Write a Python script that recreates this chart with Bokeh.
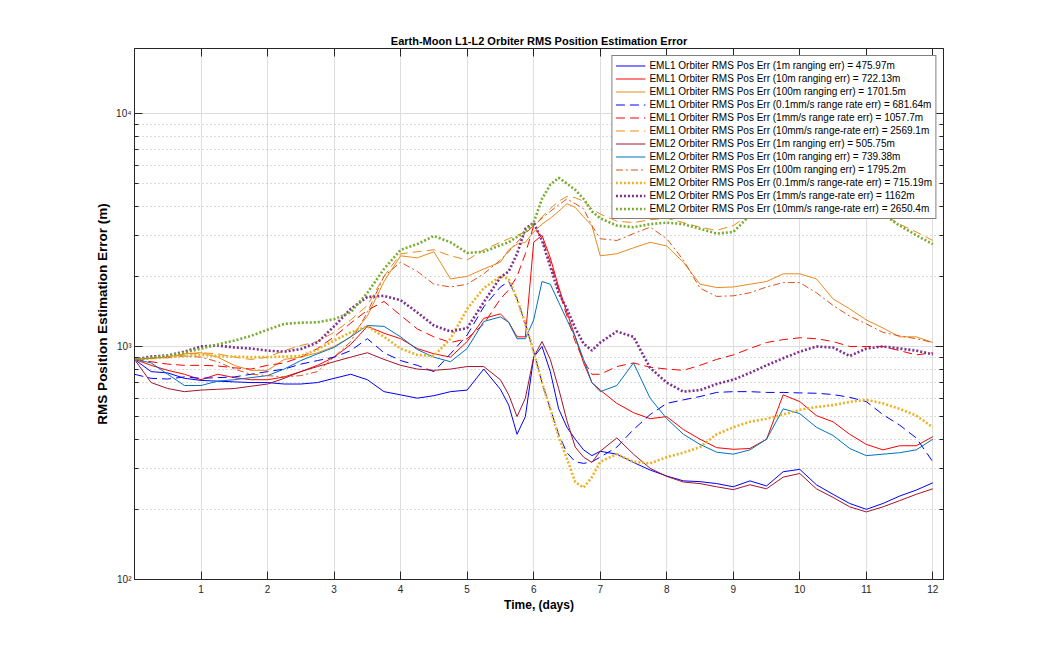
from bokeh.plotting import figure
from bokeh.models import FixedTicker, LogAxis, LinearAxis, Legend, LegendItem, Range1d
from bokeh.embed import file_html
from bokeh.resources import INLINE

# ---------------- data ----------------
t_days = [0, 0.25, 0.5, 0.75, 1, 1.25, 1.5, 1.75, 2, 2.25, 2.5, 2.75, 3, 3.25, 3.5, 3.75,
          4, 4.25, 4.5, 4.75, 5, 5.25, 5.5,
          5.625, 5.75, 5.875, 6, 6.125, 6.25, 6.375, 6.5, 6.625, 6.75, 6.875, 7,
          7.25, 7.5, 7.75, 8, 8.25, 8.5, 8.75, 9, 9.25, 9.5, 9.75, 10, 10.25, 10.5, 10.75,
          11, 11.25, 11.5, 11.75, 12]

eml1_1m = [880, 780, 770, 730, 715, 710, 705, 700, 700, 690, 690, 700, 730, 760, 720, 640, 620, 600, 615, 640, 650, 800, 655,
           560, 420, 500, 900, 1000, 780, 540, 450, 400, 360, 340, 355,
           345, 318, 295, 278, 265, 263, 258, 250, 265, 252, 290, 297, 255, 232, 212, 200, 212, 228, 242, 260]
eml1_10m = [880, 830, 790, 760, 720, 760, 735, 720, 720, 740, 780, 830, 900, 1020, 1220, 1140, 1080, 980, 930, 900, 1050, 1320, 1380,
            1270, 1100, 1100, 2800, 3000, 2400, 1800, 1400, 1100, 850, 700, 650,
            570, 520, 490, 500, 440, 400, 368, 362, 365, 400, 620, 580, 505, 475, 420, 380, 360, 375, 375, 410]
eml1_100m = [880, 890, 900, 930, 940, 900, 830, 790, 790, 880, 900, 940, 1000, 1100, 1350, 1900, 2450, 2400, 2550, 1950, 2000, 2150, 2300,
             2600, 2750, 2800, 3100, 3350, 3550, 3800, 4100, 3950, 3600, 3300, 2450,
             2500, 2650, 2800, 2700, 2300, 1850, 1790, 1800, 1850, 1900, 2050, 2050, 1950, 1600, 1450, 1300, 1200, 1100, 1100, 1040]
eml1_01mms = [760, 730, 725, 740, 730, 735, 740, 760, 780, 800, 840, 870, 900, 960, 1080, 940, 870, 830, 780, 930, 1120, 1480, 1800,
              1900, 1600, 1250, 950, 700, 540, 420, 350, 320, 315, 320, 335,
              370, 440, 510, 570, 590, 610, 635, 640, 640, 635, 635, 632, 630, 622, 605, 580, 510, 460, 405, 320]
eml1_1mms = [880, 860, 840, 830, 830, 825, 810, 800, 830, 850, 900, 980, 1100, 1260, 1430, 1560, 1360, 1190, 1100, 1040, 1080, 1250, 1600,
             1750, 2000, 2500, 3300, 2900, 2300, 1750, 1350, 1050, 870, 760, 760,
             820, 850, 815, 800, 790, 830, 880, 920, 980, 1040, 1070, 1090, 1080, 1050, 1000, 1000, 1000, 960, 920, 940]
eml1_10mms = [880, 890, 900, 920, 940, 930, 900, 880, 900, 960, 1010, 1050, 1150, 1300, 1500, 2000, 2500, 2550, 2600, 2450, 2350, 2600, 2800,
              2900, 3000, 3100, 3300, 3600, 3900, 4200, 4400, 4350, 4200, 3900, 3700,
              3450, 3400, 3500, 3550, 3400, 3250, 3150, 3300, 3700, 4050, 4300, 4450, 4500, 4400, 4200, 3950, 3700, 3350, 3100, 2850]
eml2_1m = [880, 700, 660, 640, 650, 655, 660, 675, 690, 730, 780, 820, 860, 900, 940, 880, 830, 800, 790, 800, 820, 820, 720,
           620, 500, 600, 900, 1050, 880, 660, 480, 370, 335, 318, 355,
           405, 345, 300, 277, 262, 258, 250, 243, 255, 245, 275, 285, 245, 225, 205, 195, 205, 218, 232, 245]
eml2_10m = [880, 850, 760, 680, 680, 710, 720, 735, 750, 800, 870, 930, 990, 1100, 1230, 1220, 1100, 970, 900, 860, 980, 1280, 1340,
            1270, 1080, 1080, 1300, 1900, 1850, 1550, 1300, 1100, 880, 700, 640,
            680, 850, 600, 490, 420, 380, 352, 345, 360, 400, 540, 515, 450, 415, 365, 340, 345, 350, 360, 400]
eml2_100m = [880, 890, 895, 910, 900, 860, 800, 760, 750, 740, 750, 780, 900, 1050, 1400, 2000, 2300, 2100, 1850, 1800, 1850, 2050, 2350,
             2550, 2800, 3050, 3300, 3550, 3800, 4050, 4300, 4100, 3900, 3300, 2900,
             2850, 3050, 3250, 2900, 2350, 1780, 1640, 1650, 1700, 1800, 1880, 1880, 1700, 1500, 1350, 1250, 1150, 1110, 1080, 1040]
eml2_01mms = [880, 890, 900, 910, 920, 910, 905, 900, 900, 905, 910, 970, 1060, 1150, 1220, 1100, 980, 920, 910, 1080, 1450, 1780, 2000,
              1950, 1600, 1250, 950, 700, 540, 410, 330, 262, 248, 275, 320,
              345, 320, 315, 335, 350, 370, 420, 450, 475, 490, 510, 535, 550, 560, 578, 590, 570, 540, 505, 450]
eml2_1mms = [880, 905, 915, 950, 1000, 1010, 990, 980, 960, 950, 975, 1040, 1220, 1450, 1630, 1650, 1580, 1400, 1230, 1160, 1200, 1550, 1980,
             2100, 2500, 3200, 3400, 2850, 2200, 1700, 1450, 1200, 1030, 960, 1040,
             1160, 1100, 810, 700, 640, 650, 690, 720, 770, 830, 890, 950, 1000, 990, 910, 980, 1000, 980, 960, 925]
eml2_10mms = [880, 895, 915, 940, 980, 1020, 1060, 1110, 1180, 1250, 1265, 1270, 1310, 1400, 1700, 2150, 2600, 2750, 2980, 2800, 2520, 2550, 2720,
              2800, 2950, 3100, 3400, 4300, 4950, 5300, 5000, 4700, 4300, 3800, 3550,
              3300, 3250, 3350, 3400, 3350, 3200, 3050, 3100, 3650, 4100, 4400, 4600, 4700, 4600, 4400, 4100, 3700, 3300, 3000, 2750]

legend_labels = [
    "EML1 Orbiter RMS Pos Err (1m ranging err) = 475.97m",
    "EML1 Orbiter RMS Pos Err (10m ranging err) = 722.13m",
    "EML1 Orbiter RMS Pos Err (100m ranging err) = 1701.5m",
    "EML1 Orbiter RMS Pos Err (0.1mm/s range rate err) = 681.64m",
    "EML1 Orbiter RMS Pos Err (1mm/s range rate err) = 1057.7m",
    "EML1 Orbiter RMS Pos Err (10mm/s range-rate err) = 2569.1m",
    "EML2 Orbiter RMS Pos Err (1m ranging err) = 505.75m",
    "EML2 Orbiter RMS Pos Err (10m ranging err) = 739.38m",
    "EML2 Orbiter RMS Pos Err (100m ranging err) = 1795.2m",
    "EML2 Orbiter RMS Pos Err (0.1mm/s range-rate err) = 715.19m",
    "EML2 Orbiter RMS Pos Err (1mm/s range-rate err) = 1162m",
    "EML2 Orbiter RMS Pos Err (10mm/s range-rate err) = 2650.4m",
]

x_ticks = [1, 2, 3, 4, 5, 6, 7, 8, 9, 10, 11, 12]
y_ticks = [100, 1000, 10000]
y_tick_labels = ["10\u00b2", "10\u00b3", "10\u2074"]
y_minor_ticks = [200, 300, 400, 500, 600, 700, 800, 900, 2000, 3000, 4000, 5000, 6000, 7000, 8000, 9000]

all_series = [eml1_1m, eml1_10m, eml1_100m, eml1_01mms, eml1_1mms, eml1_10mms,
              eml2_1m, eml2_10m, eml2_100m, eml2_01mms, eml2_1mms, eml2_10mms]
for s in all_series:
    if len(s) != len(t_days):
        raise ValueError("length mismatch %d" % len(s))

# ---------------- styles ----------------
ORANGE = "#EA8A1A"
styles = [
    ("#0000FF", 1.0, "solid"),
    ("#FF0000", 1.0, "solid"),
    (ORANGE, 1.0, "solid"),
    ("#0000FF", 1.0, "9 5"),
    ("#FF0000", 1.0, "9 5"),
    (ORANGE, 1.0, "9 5"),
    ("#A2142F", 1.0, "solid"),
    ("#0072BD", 1.0, "solid"),
    ("#D95319", 1.0, "7 3 2 3"),
    ("#EDB120", 2.6, "2 2"),
    ("#7E2F8E", 2.6, "2 2"),
    ("#77AC30", 2.6, "2 2"),
]

FONT = "Liberation Sans"
AX = "#262626"

p = figure(width=1028, height=643, y_axis_type="log",
           x_range=Range1d(0, 12.16), y_range=Range1d(100, 19000),
           output_backend="svg", toolbar_location=None,
           min_border_left=134, min_border_right=85, min_border_top=48, min_border_bottom=64,
           background_fill_color="white", border_fill_color="white")

p.title.text = "Earth-Moon L1-L2 Orbiter RMS Position Estimation Error"
p.title.align = "center"
p.title.text_font = FONT
p.title.text_font_size = "11px"
p.title.text_font_style = "bold"
p.title.text_color = "#000000"
p.title.standoff = 4

p.outline_line_color = AX
p.outline_line_width = 1

xt = FixedTicker(ticks=x_ticks, minor_ticks=[])
p.xaxis.ticker = xt
p.xaxis.axis_label = "Time, (days)"
p.yaxis.axis_label = "RMS Position Estimation Error (m)"

yt = FixedTicker(ticks=y_ticks, minor_ticks=y_minor_ticks)
p.yaxis.ticker = yt
p.yaxis.major_label_overrides = {v: l for v, l in zip(y_ticks, y_tick_labels)}

for ax in (p.xaxis[0], p.yaxis[0]):
    ax.axis_line_color = AX
    ax.major_tick_line_color = AX
    ax.minor_tick_line_color = AX
    ax.major_tick_in = 8
    ax.major_tick_out = 0
    ax.minor_tick_in = 4
    ax.minor_tick_out = 0
    ax.major_label_text_font = FONT
    ax.major_label_text_font_size = "10px"
    ax.major_label_text_color = AX
    ax.axis_label_text_font = FONT
    ax.axis_label_text_font_style = "bold"
    ax.axis_label_text_color = "#000000"
p.xaxis.major_label_standoff = 5
p.xaxis.axis_label_text_font_size = "12px"
p.xaxis.axis_label_standoff = 2
p.yaxis.major_label_standoff = 3
p.yaxis.axis_label_text_font_size = "13.5px"
p.yaxis.axis_label_standoff = 3

# top and right axes (ticks only, labels invisible)
top_ax = LinearAxis(ticker=FixedTicker(ticks=x_ticks, minor_ticks=[]))
right_ax = LogAxis(ticker=FixedTicker(ticks=y_ticks, minor_ticks=y_minor_ticks))
for ax in (top_ax, right_ax):
    ax.axis_line_color = AX
    ax.major_tick_line_color = AX
    ax.minor_tick_line_color = AX
    ax.major_tick_in = 8
    ax.major_tick_out = 0
    ax.minor_tick_in = 4
    ax.minor_tick_out = 0
    ax.major_label_text_font_size = "1px"
    ax.major_label_text_alpha = 0
    ax.major_label_standoff = 0
p.add_layout(top_ax, "above")
p.add_layout(right_ax, "right")

p.xgrid.grid_line_color = "#dedede"
p.xgrid.grid_line_width = 1
p.ygrid.grid_line_color = "#dedede"
p.ygrid.grid_line_width = 1
p.ygrid.minor_grid_line_color = "#b4b4b4"
p.ygrid.minor_grid_line_dash = "1 3"
p.ygrid.minor_grid_line_width = 1

items = []
for vals, lab, (col, w, dash) in zip(all_series, legend_labels, styles):
    r = p.line(t_days, vals, line_color=col, line_width=w, line_dash=dash)
    items.append(LegendItem(label=lab, renderers=[r]))

legend = Legend(items=items, location="top_right", margin=7, padding=3, spacing=0,
                label_standoff=4, glyph_width=30, glyph_height=13, label_height=13,
                label_text_font=FONT, label_text_font_size="10px", label_text_color="#000000",
                border_line_color="#000000", border_line_width=1,
                background_fill_color="white", background_fill_alpha=1.0)
p.add_layout(legend)

open("out.html", "w").write(file_html(p, INLINE))
